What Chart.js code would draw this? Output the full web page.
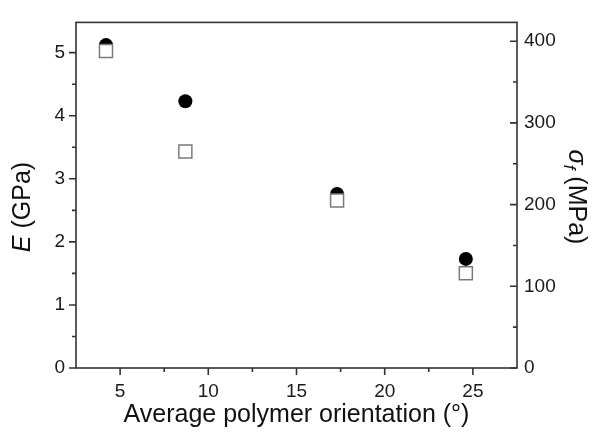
<!DOCTYPE html>
<html>
<head>
<meta charset="utf-8">
<script src="https://cdn.jsdelivr.net/npm/chart.js@4"></script>
<style>
html,body{margin:0;padding:0;background:#fff;}
#wrap{width:593px;height:433px;position:relative;}
</style>
</head>
<body>
<div id="wrap"><canvas id="c" width="593" height="433"></canvas></div>
<script>
// ---- data ----
const orientation = [4.2, 8.7, 17.3, 24.6];      // average polymer orientation (deg)
const modulusGPa  = [5.12, 4.23, 2.76, 1.73];    // E (GPa), filled circles, left axis
const strengthMPa = [388, 265, 205, 116];        // sigma_f (MPa), open squares, right axis

const xTicks = [5, 10, 15, 20, 25];
const xMinor = [7.5, 12.5, 17.5, 22.5];
const eTicks = [0, 1, 2, 3, 4, 5];
const eMinor = [0.5, 1.5, 2.5, 3.5, 4.5];
const sTicks = [0, 100, 200, 300, 400];
const sMinor = [50, 150, 250, 350];

const xTitle = 'Average polymer orientation (°)';

const FONT = "'Liberation Sans', Arial, sans-serif";
const AXIS = '#333333';

const framePlugin = {
  id: 'frame',
  afterDraw(chart) {
    const ctx = chart.ctx;
    const a = chart.chartArea;
    const sx = chart.scales.x, sl = chart.scales.yL, sr = chart.scales.yR;
    ctx.save();
    ctx.strokeStyle = AXIS;
    ctx.lineWidth = 1.6;
    ctx.strokeRect(a.left, a.top, a.right - a.left, a.bottom - a.top);
    ctx.beginPath();
    // x ticks (outward, down)
    xTicks.forEach(v => { const p = sx.getPixelForValue(v); ctx.moveTo(p, a.bottom); ctx.lineTo(p, a.bottom + 7); });
    xMinor.forEach(v => { const p = sx.getPixelForValue(v); ctx.moveTo(p, a.bottom); ctx.lineTo(p, a.bottom + 4); });
    // left ticks (outward)
    eTicks.forEach(v => { const p = sl.getPixelForValue(v); ctx.moveTo(a.left, p); ctx.lineTo(a.left - 7, p); });
    eMinor.forEach(v => { const p = sl.getPixelForValue(v); ctx.moveTo(a.left, p); ctx.lineTo(a.left - 4, p); });
    // right ticks (inward)
    sTicks.forEach(v => { const p = sr.getPixelForValue(v); ctx.moveTo(a.right, p); ctx.lineTo(a.right - 7, p); });
    sMinor.forEach(v => { const p = sr.getPixelForValue(v); ctx.moveTo(a.right, p); ctx.lineTo(a.right - 4, p); });
    ctx.stroke();

    ctx.fillStyle = '#111';
    // x title
    ctx.font = '25px ' + FONT;
    ctx.textAlign = 'center';
    ctx.textBaseline = 'alphabetic';
    ctx.fillText(xTitle, (a.left + a.right) / 2, 422);

    // left title: E (GPa)
    ctx.save();
    ctx.translate(23, 207);
    ctx.rotate(-Math.PI / 2);
    ctx.textAlign = 'left';
    const p1 = 'E', p2 = ' (GPa)';
    ctx.font = 'italic 25px ' + FONT; const w1 = ctx.measureText(p1).width;
    ctx.font = '25px ' + FONT; const w2 = ctx.measureText(p2).width;
    let x0 = -(w1 + w2) / 2;
    ctx.font = 'italic 25px ' + FONT; ctx.fillText(p1, x0, 6.5);
    ctx.font = '25px ' + FONT; ctx.fillText(p2, x0 + w1, 6.5);
    ctx.restore();

    // right title: σf (MPa)
    ctx.save();
    ctx.translate(575, 197);
    ctx.rotate(Math.PI / 2);
    ctx.textAlign = 'left';
    const q1 = 'σ', q2 = 'f', q3 = ' (MPa)';
    ctx.font = 'italic 25px ' + FONT; const v1 = ctx.measureText(q1).width;
    ctx.font = 'italic 17px ' + FONT; const v2 = ctx.measureText(q2).width;
    ctx.font = '25px ' + FONT; const v3 = ctx.measureText(q3).width;
    x0 = -(v1 + v2 + v3) / 2;
    ctx.font = 'italic 25px ' + FONT; ctx.fillText(q1, x0, 6.5);
    ctx.font = 'italic 17px ' + FONT; ctx.fillText(q2, x0 + v1, 11.5);
    ctx.font = '25px ' + FONT; ctx.fillText(q3, x0 + v1 + v2, 6.5);
    ctx.restore();
    ctx.restore();
  }
};

const tickFont = { family: FONT, size: 19 };

new Chart(document.getElementById('c'), {
  type: 'scatter',
  data: {
    datasets: [
      {
        label: 'σf',
        data: orientation.map((x, i) => ({ x: x, y: strengthMPa[i] })),
        yAxisID: 'yR',
        pointStyle: 'rect',
        pointRadius: 9.2,
        backgroundColor: '#ffffff',
        borderColor: '#7a7a7a',
        borderWidth: 1.5,
        order: 0
      },
      {
        label: 'E',
        data: orientation.map((x, i) => ({ x: x, y: modulusGPa[i] })),
        yAxisID: 'yL',
        pointStyle: 'circle',
        pointRadius: 7,
        backgroundColor: '#000000',
        borderColor: '#000000',
        borderWidth: 0,
        order: 1
      }
    ]
  },
  options: {
    responsive: false,
    animation: false,
    events: [],
    layout: { padding: { top: 14, left: 0, right: 0, bottom: 0 } },
    plugins: { legend: { display: false }, tooltip: { enabled: false } },
    scales: {
      x: {
        type: 'linear', position: 'bottom', min: 2.5, max: 27.5,
        grid: { display: false, drawTicks: false },
        border: { display: false },
        afterBuildTicks: s => { s.ticks = xTicks.map(v => ({ value: v })); },
        afterFit: s => { s.height = 65; },
        ticks: { font: tickFont, color: '#1a1a1a', padding: 12, maxRotation: 0, autoSkip: false }
      },
      yL: {
        type: 'linear', position: 'left', min: 0, max: 5.48,
        grid: { display: false, drawTicks: false },
        border: { display: false },
        afterBuildTicks: s => { s.ticks = eTicks.map(v => ({ value: v })); },
        afterFit: s => { s.width = 76; },
        ticks: { font: tickFont, color: '#1a1a1a', padding: 11, autoSkip: false }
      },
      yR: {
        type: 'linear', position: 'right', min: 0, max: 423,
        grid: { display: false, drawTicks: false },
        border: { display: false },
        afterBuildTicks: s => { s.ticks = sTicks.map(v => ({ value: v })); },
        afterFit: s => { s.width = 76; },
        ticks: { font: tickFont, color: '#1a1a1a', padding: 7, autoSkip: false }
      }
    }
  },
  plugins: [framePlugin]
});
</script>
</body>
</html>
